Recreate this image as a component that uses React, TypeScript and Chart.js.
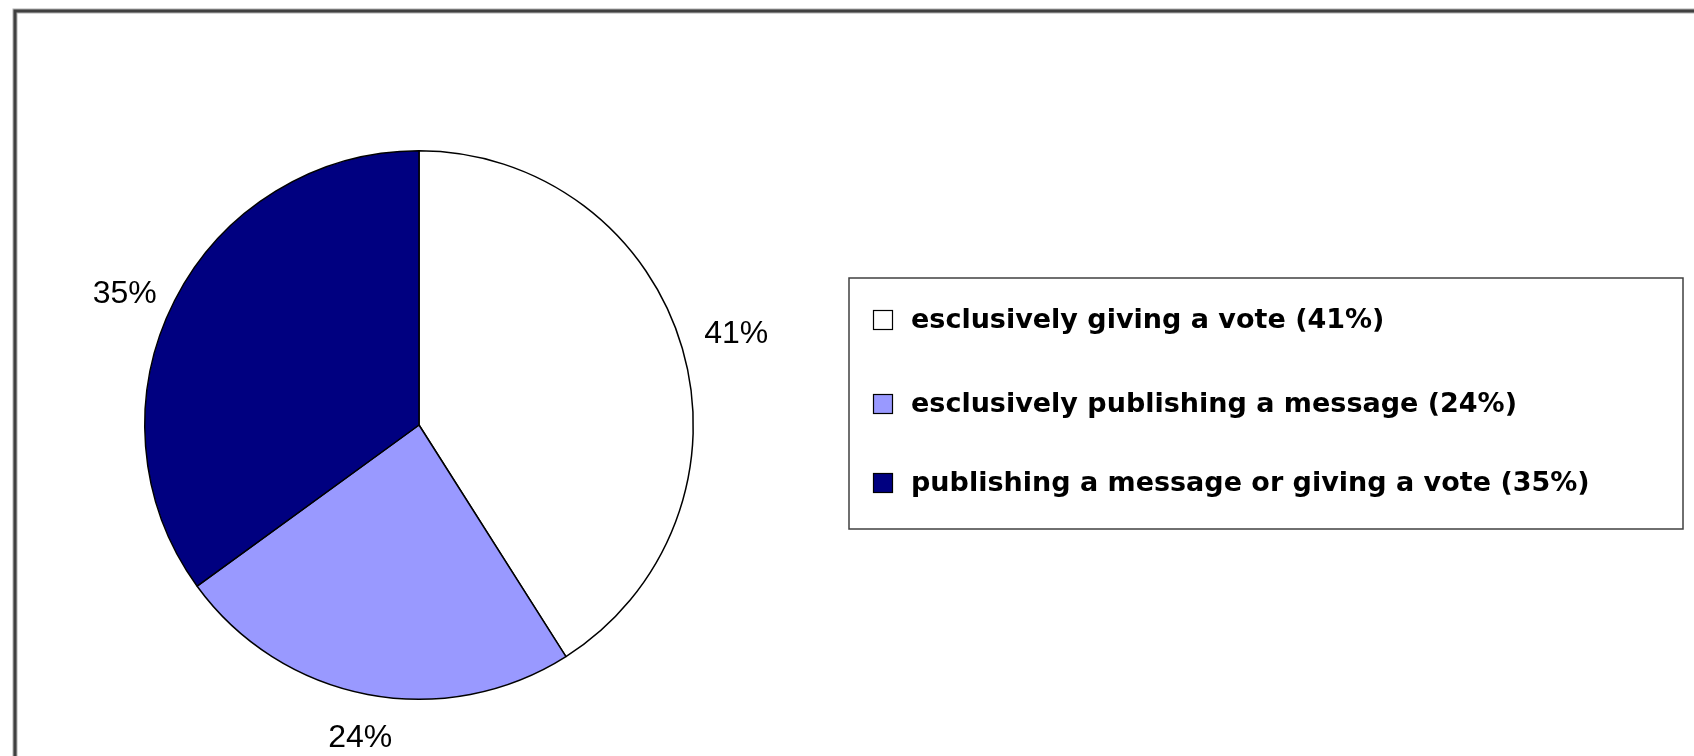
import React, { useEffect, useRef } from "react";
import { Chart, registerables } from "chart.js";

Chart.register(...registerables);

const categories = [
  "esclusively giving a vote",
  "esclusively publishing a message",
  "publishing a message or giving a vote",
];
const shares = [41, 24, 35];
const sliceColors = ["#FFFFFF", "#9999FF", "#000080"];

// style: small per-label vertical nudges (px) and legend row centres
const labelNudgeY = [0, 4, 18];
const legendRowY = [320, 404, 483];

const W = 1694;
const H = 756;

const decorPlugin = {
  id: "decor",
  beforeDraw(chart: any) {
    const ctx = chart.ctx;
    ctx.save();
    ctx.fillStyle = "#FFFFFF";
    ctx.fillRect(0, 0, W, H);
    ctx.strokeStyle = "#B0B0B0";
    ctx.lineWidth = 5;
    ctx.strokeRect(15, 11, W + 40, H + 40);
    ctx.strokeStyle = "#404040";
    ctx.lineWidth = 3;
    ctx.strokeRect(15, 11, W + 40, H + 40);
    ctx.restore();
  },
  afterDraw(chart: any) {
    const ctx = chart.ctx;
    const meta = chart.getDatasetMeta(0);
    const ds = chart.data.datasets[0];
    ctx.save();
    ctx.font = "32px 'Liberation Sans', Arial, sans-serif";
    ctx.fillStyle = "#000000";
    ctx.textAlign = "center";
    ctx.textBaseline = "middle";
    meta.data.forEach((arc: any, i: number) => {
      const p = arc.getProps(["x", "y", "startAngle", "endAngle", "outerRadius"], true);
      const a = (p.startAngle + p.endAngle) / 2;
      const dx = Math.cos(a);
      const dy = Math.sin(a);
      const txt = ds.data[i] + "%";
      const w = ctx.measureText(txt).width;
      const dist = p.outerRadius + 22 + Math.abs(dx) * (w / 2) + Math.abs(dy) * 12;
      ctx.fillText(txt, p.x + dx * dist, p.y + dy * dist + 1 + labelNudgeY[i]);
    });
    const bx = 849, by = 278, bw = 1683 - 849, bh = 529 - 278;
    ctx.strokeStyle = "#404040";
    ctx.lineWidth = 1.5;
    ctx.strokeRect(bx, by, bw, bh);
    ctx.font = "bold 27px 'DejaVu Sans', Verdana, sans-serif";
    ctx.textAlign = "left";
    ctx.textBaseline = "middle";
    chart.data.labels.forEach((lab: string, i: number) => {
      const cy = legendRowY[i];
      ctx.fillStyle = ds.backgroundColor[i];
      ctx.fillRect(873.5, cy - 9.5, 19, 19);
      ctx.strokeStyle = "#000000";
      ctx.lineWidth = 1.2;
      ctx.strokeRect(873.5, cy - 9.5, 19, 19);
      ctx.fillStyle = "#000000";
      ctx.fillText(lab + " (" + ds.data[i] + "%)", 911, cy + 1);
    });
    ctx.restore();
  },
};

export default function App() {
  const ref = useRef<HTMLCanvasElement>(null);
  useEffect(() => {
    if (!ref.current) return;
    const chart = new Chart(ref.current, {
      type: "pie",
      data: {
        labels: categories,
        datasets: [
          {
            data: shares,
            backgroundColor: sliceColors,
            borderColor: "#000000",
            borderWidth: 1.5,
          },
        ],
      },
      options: {
        animation: false,
        responsive: false,
        events: [],
        layout: { padding: { left: 144, top: 150, right: W - 694, bottom: H - 700 } },
        plugins: {
          legend: { display: false },
          tooltip: { enabled: false },
        },
      },
      plugins: [decorPlugin],
    });
    return () => chart.destroy();
  }, []);
  return (
    <div style={{ position: "absolute", left: 0, top: 0, width: W, height: H, overflow: "hidden" }}>
      <canvas ref={ref} width={W} height={H} style={{ width: W, height: H, display: "block" }} />
    </div>
  );
}
